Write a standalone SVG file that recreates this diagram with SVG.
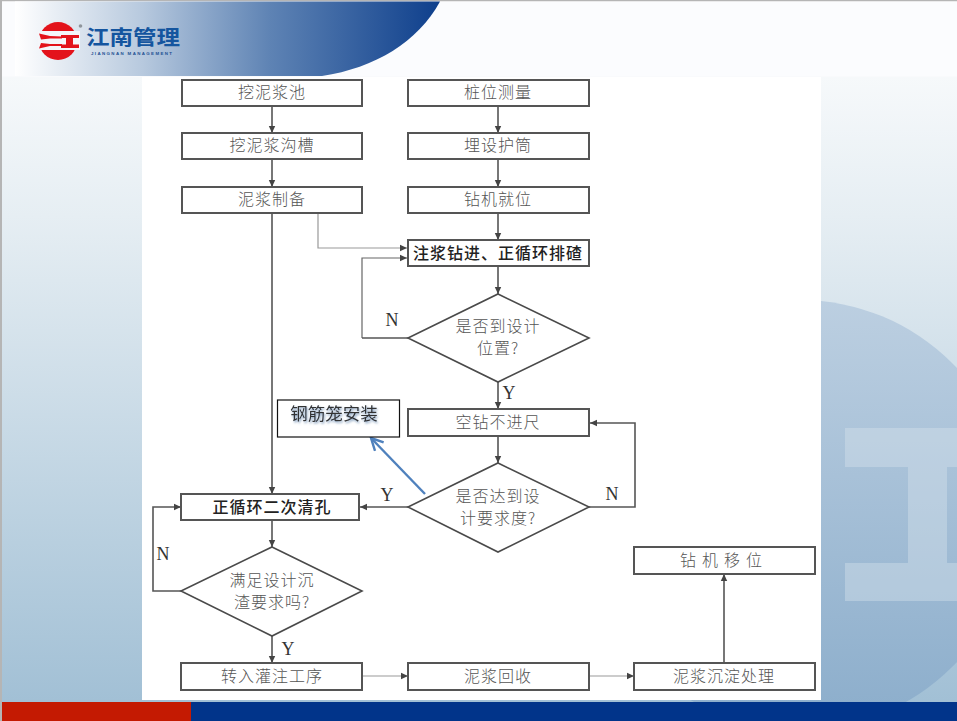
<svg xmlns="http://www.w3.org/2000/svg" width="957" height="721" viewBox="0 0 957 721">
<style>
.b{fill:#fff;stroke:#555;stroke-width:2}
.d{fill:#fff;stroke:#4a4a4a;stroke-width:1.6}
.t{font-family:"Noto Sans CJK SC",sans-serif;font-size:16px;font-weight:300;letter-spacing:1px;fill:#555;text-anchor:middle}
.k{fill:#222;font-weight:500}
.l{font-family:"Liberation Serif",serif;font-size:18px;fill:#333;text-anchor:middle}
.c{fill:none;stroke:#555;stroke-width:1.6;marker-end:url(#a)}
.f{fill:none;stroke:#999;stroke-width:1.2;marker-end:url(#a)}
</style>
<defs>
<linearGradient id="bg" x1="0" y1="0" x2="0" y2="1"><stop offset="0" stop-color="#fff"/><stop offset="0.3" stop-color="#e6eef3"/><stop offset="1" stop-color="#9fbed4"/></linearGradient>
<linearGradient id="cg" x1="0" y1="0" x2="0" y2="1"><stop offset="0" stop-color="#bccfe1"/><stop offset="1" stop-color="#8badcb"/></linearGradient>
<linearGradient id="hd" x1="0" y1="0" x2="1" y2="0"><stop offset="0" stop-color="#fff"/><stop offset="0.3" stop-color="#b7c9de"/><stop offset="0.6" stop-color="#5e83b4"/><stop offset="1" stop-color="#0e3f8c"/></linearGradient>
<marker id="a" markerWidth="8" markerHeight="8" refX="7" refY="4" orient="auto" markerUnits="userSpaceOnUse"><path d="M0 0.8L7 4L0 7.2Z" fill="#444"/></marker>
<marker id="ba" markerWidth="16" markerHeight="16" refX="13" refY="7" orient="auto" markerUnits="userSpaceOnUse"><path d="M1 1L13 7L1 13" fill="none" stroke="#4f81bd" stroke-width="2.4"/></marker>
<filter id="sh" x="-10%" y="-30%" width="120%" height="160%"><feDropShadow dx="1" dy="1.5" stdDeviation="1" flood-color="#5a7fa8" flood-opacity="0.8"/></filter>
</defs>

<g id="background">
<rect width="957" height="721" fill="url(#bg)"/>
<rect x="0" y="0" width="957" height="1.5" fill="#b5b5b5"/>
<rect x="0" y="0" width="2" height="721" fill="#b5b5b5"/>
<rect x="2" y="1.5" width="955" height="75" fill="#fbfcfe"/>
<circle cx="800" cy="515" r="215" fill="url(#cg)"/>
<path d="M845 428H957V467H947V563H957V601H845V563H908V467H845Z" fill="#d6e3ec" fill-opacity="0.42"/>
<path d="M15 1.5H440C418 42 375 68 322 76H15Z" fill="url(#hd)"/>
<rect x="142" y="77" width="679" height="623" fill="#fff"/>
<rect x="2" y="702" width="955" height="19" fill="#01348a"/>
<rect x="2" y="702" width="189" height="19" fill="#c41a02"/>
</g>

<g id="logo">
<circle cx="58" cy="41" r="19" fill="#e3131b"/>
<rect x="38" y="31" width="42" height="19" fill="#f4f6fa"/>
<path d="M39 33.500L50 36L62 36.500V38.500L50 38.500L41 39.500ZM41 43L50 44L62 44V46L50 46L39 48.500Z" fill="#e3131b"/>
<path d="M61 35H79V38H73V44.500H79V48H61V44.500H66V38H61Z" fill="#e3131b"/>
<circle cx="80.500" cy="26" r="1.800" fill="#8f959c"/>
<text x="133" y="44.500" font-family="Noto Sans CJK SC,sans-serif" font-size="20" font-weight="700" fill="#14559f" text-anchor="middle" textLength="94" lengthAdjust="spacingAndGlyphs">江南管理</text>
<text x="131.500" y="55" font-family="Liberation Sans,sans-serif" font-size="4.400" font-weight="700" fill="#1d4f92" text-anchor="middle" textLength="81">JIANGNAN MANAGEMENT</text>
</g>

<g id="connectors">
<path class="c" d="M272 106V133"/>
<path class="c" d="M272 159V187"/>
<path class="c" d="M272 213V494"/>
<path class="c" d="M498 106V133"/>
<path class="c" d="M498 159V187"/>
<path class="c" d="M498 213V240"/>
<path class="f" d="M318 213V248H407"/>
<path class="f" d="M362 338V258H407" style="stroke:#666"/>
<path class="c" d="M408 338H362" style="marker-end:none"/>
<path class="c" d="M498 266V294"/>
<path class="c" d="M498 382V409"/>
<path class="c" d="M498 436V463"/>
<path class="c" d="M589 507H635V423H590"/>
<path class="c" d="M408 507H360"/>
<path class="c" d="M272 520V547"/>
<path class="c" d="M181 591H153V507H181"/>
<path class="c" d="M272 636V663"/>
<path class="f" d="M362 676H408"/>
<path class="f" d="M589 676H634"/>
<path class="c" d="M724 663V574"/>
<path d="M425 494L371 438" fill="none" stroke="#4f81bd" stroke-width="2.4" marker-end="url(#ba)"/>
</g>

<g id="n1"><rect class="b" x="182" y="80" width="180" height="26"/><text class="t" x="272" y="98">挖泥浆池</text></g>
<g id="n2"><rect class="b" x="182" y="133" width="180" height="26"/><text class="t" x="272" y="151">挖泥浆沟槽</text></g>
<g id="n3"><rect class="b" x="182" y="187" width="180" height="26"/><text class="t" x="272" y="205">泥浆制备</text></g>
<g id="n4"><rect class="b" x="408" y="80" width="181" height="26"/><text class="t" x="498" y="98">桩位测量</text></g>
<g id="n5"><rect class="b" x="408" y="133" width="181" height="26"/><text class="t" x="498" y="151">埋设护筒</text></g>
<g id="n6"><rect class="b" x="408" y="187" width="181" height="26"/><text class="t" x="498" y="205">钻机就位</text></g>
<g id="n7"><rect class="b" x="408" y="240" width="181" height="26"/><text class="t k" x="498" y="259">注浆钻进、正循环排碴</text></g>
<g id="n8"><path class="d" d="M498 294L589 338L498 382L408 338Z"/><text class="t" x="498" y="332">是否到设计</text><text class="t" x="498" y="354">位置?</text></g>
<g id="n9"><rect class="b" x="408" y="409" width="181" height="27"/><text class="t" x="498" y="428">空钻不进尺</text></g>
<g id="n10"><path class="d" d="M498 463L589 507L498 552L408 507Z"/><text class="t" x="498" y="502">是否达到设</text><text class="t" x="498" y="524">计要求度?</text></g>
<g id="n11"><rect class="b" x="181" y="494" width="178" height="26"/><text class="t k" x="272" y="513">正循环二次清孔</text></g>
<g id="n12"><path class="d" d="M272 547L362 591L272 636L181 591Z"/><text class="t" x="272" y="586">满足设计沉</text><text class="t" x="272" y="608">渣要求吗?</text></g>
<g id="n13"><rect class="b" x="181" y="663" width="181" height="27"/><text class="t" x="272" y="682">转入灌注工序</text></g>
<g id="n14"><rect class="b" x="408" y="663" width="181" height="27"/><text class="t" x="498" y="682">泥浆回收</text></g>
<g id="n15"><rect class="b" x="634" y="663" width="181" height="27"/><text class="t" x="724" y="682">泥浆沉淀处理</text></g>
<g id="n16"><rect class="b" x="634" y="547" width="181" height="27"/><text class="t" x="724" y="566" style="letter-spacing:6px">钻机移位</text></g>
<g id="n17"><rect x="277.500" y="400" width="122" height="37" fill="#fff" stroke="#111" stroke-width="1.2"/><text x="334" y="420" font-family="Noto Sans CJK SC,sans-serif" font-size="17.500" fill="#333" text-anchor="middle" filter="url(#sh)">钢筋笼安装</text></g>

<g id="labels">
<text class="l" x="392" y="326">N</text>
<text class="l" x="509" y="399">Y</text>
<text class="l" x="612" y="500">N</text>
<text class="l" x="387" y="501">Y</text>
<text class="l" x="163" y="560">N</text>
<text class="l" x="288" y="655">Y</text>
</g>
</svg>
